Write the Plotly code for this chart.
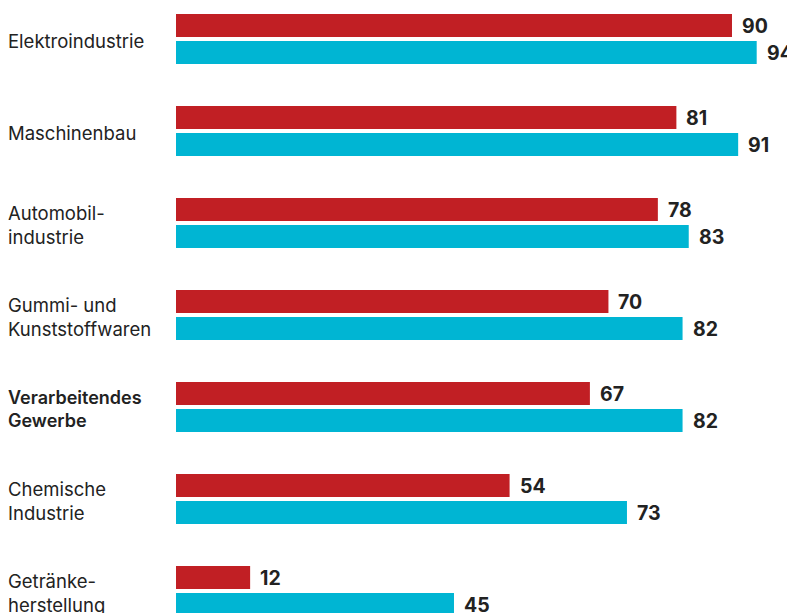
import plotly.graph_objects as go

categories = ["Elektroindustrie", "Maschinenbau", "Automobil-<br>industrie",
              "Gummi- und<br>Kunststoffwaren", "Verarbeitendes<br>Gewerbe",
              "Chemische<br>Industrie", "Getränke-<br>herstellung"]
highlight = "Verarbeitendes<br>Gewerbe"
red_values = [90, 81, 78, 70, 67, 54, 12]
cyan_values = [94, 91, 83, 82, 82, 73, 45]

RED = "#C11F24"
CYAN = "#00B5D3"
FONT = "Inter"

keys = [f"c{i}" for i in range(len(categories))]

fig = go.Figure()
fig.add_trace(go.Bar(y=keys, x=red_values, orientation="h", marker_color=RED,
                     marker_line_width=0, hoverinfo="skip"))
fig.add_trace(go.Bar(y=keys, x=cyan_values, orientation="h", marker_color=CYAN,
                     marker_line_width=0, hoverinfo="skip"))

ann = []
for k, cat, r, c in zip(keys, categories, red_values, cyan_values):
    ann.append(dict(x=0, xref="paper", xshift=-170, y=k, yref="y", yshift=-2, text=cat,
                    xanchor="left", yanchor="middle", align="left", showarrow=False,
                    font=dict(family=FONT, size=18.5 if cat != highlight else 18,
                              color="#222222",
                              weight=600 if cat == highlight else 400)))
    ann.append(dict(x=r, y=k, yshift=13.5, xshift=8, text=f"<b>{r}</b>", xanchor="left",
                    yanchor="middle", showarrow=False,
                    font=dict(family=FONT, size=19.5, color="#222222")))
    ann.append(dict(x=c, y=k, yshift=-13.5, xshift=8, text=f"<b>{c}</b>", xanchor="left",
                    yanchor="middle", showarrow=False,
                    font=dict(family=FONT, size=19.5, color="#222222")))

fig.update_layout(
    width=787, height=605,
    margin=dict(l=168, r=0, t=0, b=0),
    paper_bgcolor="white", plot_bgcolor="white",
    barmode="group", bargap=0.413, bargroupgap=0.148,
    showlegend=False,
    annotations=ann,
    xaxis=dict(range=[0, 100.2], visible=False),
    yaxis=dict(range=[6.239, -0.337], visible=False, type="category",
               categoryorder="array", categoryarray=keys),
)
fig.write_html(
    "out.html",
    post_script="document.documentElement.style.overflow='hidden';"
                "document.body.style.overflow='hidden';",
)
